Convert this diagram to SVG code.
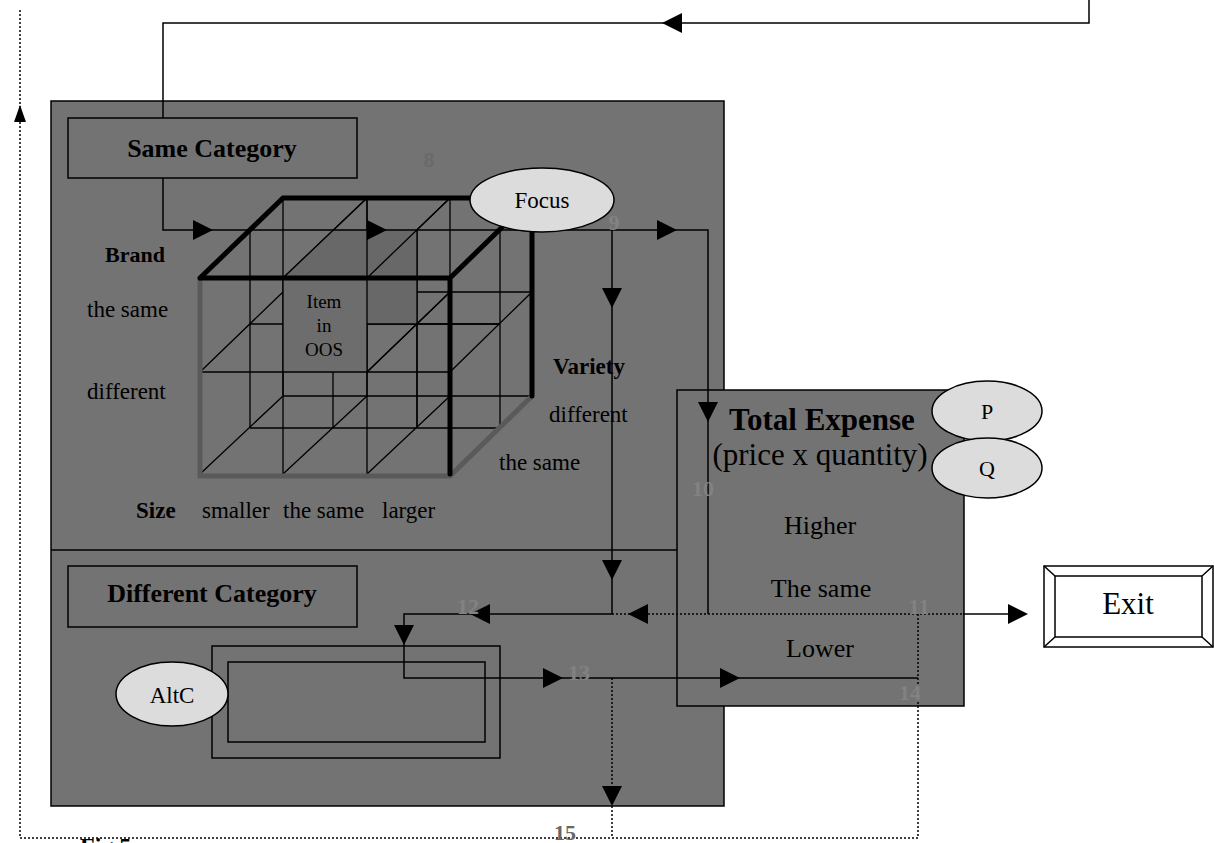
<svg xmlns="http://www.w3.org/2000/svg" width="1214" height="843" viewBox="0 0 1214 843">
<style>
.t{font-family:"Liberation Serif","Times New Roman",serif;fill:#000}
.b{font-weight:bold}
.m{text-anchor:middle}
.n{font-family:"Liberation Serif","Times New Roman",serif;font-weight:bold;font-size:22px;fill:#828282;text-anchor:middle}
.box{fill:#737373;stroke:#000;stroke-width:1.5}
.ell{fill:#dcdcdc;stroke:#000;stroke-width:1.5}
.ln{fill:none;stroke:#000;stroke-width:1.5}
.dot{fill:none;stroke:#000;stroke-width:1.5;stroke-dasharray:2 2}
.g{stroke:#000;stroke-width:1.3;fill:none}
.thick{stroke:#000;stroke-width:5;fill:none;stroke-linecap:round}
.gthick{stroke:#5a5a5a;stroke-width:5;fill:none}
</style>
<defs>
<path id="ah" d="M0 0 L-20 -10 L-20 10 Z" fill="#000"/>
<path id="ahs" d="M0 0 L-17 -6 L-17 6 Z" fill="#000"/>
</defs>
<rect width="1214" height="843" fill="#fff"/>

<g id="panel">
<rect x="51" y="101" width="673" height="705" class="box"/>
<line x1="51" y1="550" x2="677" y2="550" class="ln"/>
</g>

<g id="cube">
<g class="g">
<path d="M283 198V396M367 198V396M450 198V396M283 292H532M283 396H532"/>
<path d="M250 230V428M333 230V428M417 230V428M500 230V428M250 324H500M250 428H500"/>
<path d="M283 278L367 198M367 278L450 198M200 372L283 292M283 372L367 292M367 372L450 292M450 372L532 292M200 474L283 396M283 474L367 396M367 474L450 396"/>
</g>
<polygon points="283,278 333,230 417,230 417,324 367,324 367,278" fill="#686868"/>
<rect x="283" y="278" width="84" height="94" fill="#6d6d6d"/>
<g class="g">
<path d="M283 278L367 198M367 278L450 198M417 230V428M367 324H500M367 198V278M367 372L450 292"/>
<path d="M283 278V474M367 278V474M200 372H450"/>
</g>
<path d="M200 278V476H450L532 396" class="gthick"/>
<path d="M200 278H450V474M200 278L283 198H532V396M450 278L532 198" class="thick"/>
</g>

<g id="total-expense">
<rect x="677" y="390" width="287" height="316" class="box"/>
</g>

<g id="same-category">
<rect x="68" y="118" width="289" height="60" class="box"/>
<text x="212" y="157" class="t b m" font-size="26">Same Category</text>
</g>

<g id="different-category">
<rect x="68" y="566" width="289" height="61" class="box"/>
<text x="212" y="602" class="t b m" font-size="26">Different Category</text>
</g>

<g id="alternative">
<rect x="212" y="646" width="288" height="112" class="box"/>
<rect x="228" y="662" width="257" height="80" class="box"/>
</g>

<g id="connectors">
<path d="M1089 0V23H163V118" class="ln"/>
<path d="M163 178V230H708V614" class="ln"/>
<path d="M612 230V614H404V678H918" class="ln"/>
<path d="M612 614H963" class="dot"/>
<path d="M963 614H1012" class="ln"/>
<path d="M918 614V838H20V8" class="dot"/>
<path d="M612 678V838" class="dot"/>
<use href="#ah" transform="translate(662,23) rotate(180)"/>
<use href="#ah" transform="translate(213,230)"/>
<use href="#ah" transform="translate(387,230)"/>
<use href="#ah" transform="translate(677,230)"/>
<use href="#ah" transform="translate(612,308) rotate(90)"/>
<use href="#ah" transform="translate(708,422) rotate(90)"/>
<use href="#ah" transform="translate(612,580) rotate(90)"/>
<use href="#ah" transform="translate(628,614) rotate(180)"/>
<use href="#ah" transform="translate(470,614) rotate(180)"/>
<use href="#ah" transform="translate(404,645) rotate(90)"/>
<use href="#ah" transform="translate(563,678)"/>
<use href="#ah" transform="translate(740,678)"/>
<use href="#ah" transform="translate(1028,614)"/>
<use href="#ah" transform="translate(612,806) rotate(90)"/>
<use href="#ahs" transform="translate(20,105) rotate(-90)"/>
</g>

<g id="focus">
<ellipse cx="542" cy="200" rx="72" ry="32" class="ell"/>
<text x="542" y="208" class="t m" font-size="23">Focus</text>
</g>

<g id="altc">
<ellipse cx="172" cy="694" rx="56" ry="32" class="ell"/>
<text x="172" y="703" class="t m" font-size="23">AltC</text>
</g>

<g id="p">
<ellipse cx="987" cy="411" rx="55" ry="30" class="ell"/>
<text x="987" y="419" class="t m" font-size="22">P</text>
</g>

<g id="q">
<ellipse cx="987" cy="468" rx="55" ry="30" class="ell"/>
<text x="987" y="476" class="t m" font-size="22">Q</text>
</g>

<g id="exit">
<rect x="1044" y="566" width="169" height="81" fill="#fff" stroke="#000" stroke-width="1.5"/>
<rect x="1055" y="576" width="147" height="61" fill="#fff" stroke="#000" stroke-width="1.5"/>
<path d="M1044 566L1055 576M1213 566L1202 576M1044 647L1055 637M1213 647L1202 637" class="ln"/>
<text x="1128" y="614" class="t m" font-size="31">Exit</text>
</g>

<g id="labels">
<text x="105" y="262" class="t b" font-size="22">Brand</text>
<text x="87" y="317" class="t" font-size="23">the same</text>
<text x="87" y="399" class="t" font-size="23">different</text>
<text x="136" y="518" class="t b" font-size="23">Size</text>
<text x="202" y="518" class="t" font-size="23">smaller</text>
<text x="283" y="518" class="t" font-size="23">the same</text>
<text x="382" y="518" class="t" font-size="23">larger</text>
<text x="553" y="374" class="t b" font-size="23">Variety</text>
<text x="549" y="422" class="t" font-size="23">different</text>
<text x="499" y="470" class="t" font-size="23">the same</text>
<text x="324" y="308" class="t m" font-size="19">Item</text>
<text x="324" y="332" class="t m" font-size="19">in</text>
<text x="324" y="356" class="t m" font-size="19">OOS</text>
<text x="822" y="430" class="t b m" font-size="31">Total Expense</text>
<text x="820" y="465" class="t m" font-size="31">(price x quantity)</text>
<text x="820" y="534" class="t m" font-size="26">Higher</text>
<text x="821" y="597" class="t m" font-size="26">The same</text>
<text x="820" y="657" class="t m" font-size="26">Lower</text>
<text x="80" y="854" class="t b" font-size="24">Fig 5</text>
</g>

<g id="numbers">
<text x="429" y="167" class="n" style="fill:#6a6a6a">8</text>
<text x="614" y="230" class="n">9</text>
<text x="703" y="496" class="n">10</text>
<text x="919" y="614" class="n">11</text>
<text x="468" y="614" class="n">12</text>
<text x="579" y="680" class="n">13</text>
<text x="910" y="700" class="n">14</text>
<text x="565" y="840" class="n" style="fill:#666">15</text>
</g>
</svg>
